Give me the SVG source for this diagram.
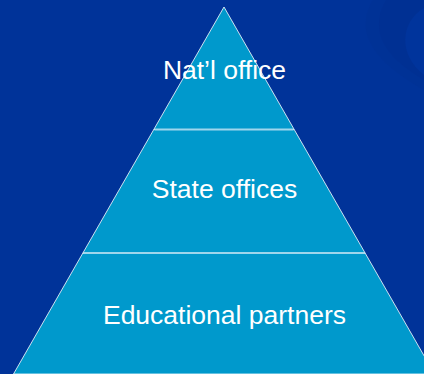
<svg xmlns="http://www.w3.org/2000/svg" width="424" height="374" viewBox="0 0 424 374">
<style>
.layer{fill:#0099CC;stroke:#FFFFFF;stroke-width:0.8}
.sep{stroke:#9FD6EC;stroke-width:2}
.lbl{font-family:"Liberation Sans",Arial,sans-serif;fill:#FFFFFF;text-anchor:middle;font-size:26.5px}
</style>
<rect width="424" height="374" fill="#003399"/>
<path d="M373,0 C358,25 362,55 424,90 L424,0 Z" fill="#003296"/>
<path d="M386,0 C372,25 376,52 424,80 L424,0 Z" fill="#003093"/>
<path d="M424,8 C400,22 398,55 424,75 Z" fill="#00349c"/>
<g id="node-educational">
<polygon class="layer" points="82.9,253 365.1,253 434.5,374 13.5,374"/>
<text class="lbl" x="224.5" y="324">Educational partners</text>
</g>
<g id="node-state">
<polygon class="layer" points="153.8,129.5 294.2,129.5 365.1,253 82.9,253"/>
<text class="lbl" x="224.5" y="198">State offices</text>
</g>
<g id="node-natl">
<polygon class="layer" points="224,7 294.2,129.5 153.8,129.5"/>
<text class="lbl" x="224.5" y="79">Nat’l office</text>
</g>
<g id="connectors">
<line class="sep" x1="154.5" y1="129.5" x2="293.5" y2="129.5"/>
<line class="sep" x1="84" y1="253" x2="364" y2="253"/>
</g>
</svg>
